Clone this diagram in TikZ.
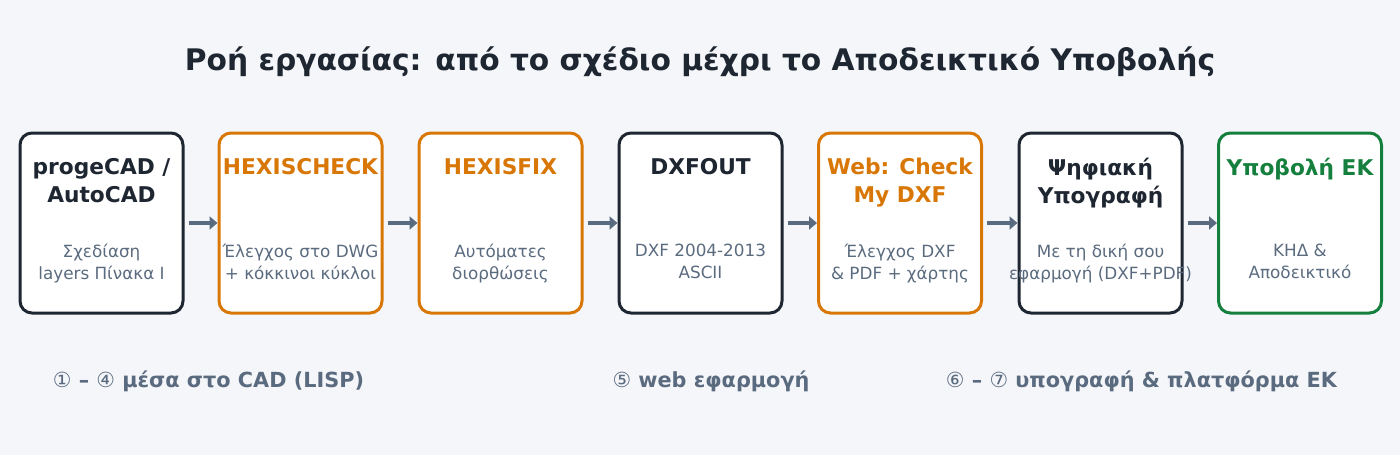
\documentclass[tikz,border=0pt]{standalone}
\usepackage{fontspec}
\setmainfont{DejaVu Sans}
\newfontfamily\plainsans{DejaVu Sans}
\usetikzlibrary{arrows.meta,positioning}

\definecolor{bgpage}{HTML}{F4F6FA}
\definecolor{inkdark}{HTML}{1E2631}
\definecolor{inkorange}{HTML}{D97706}
\definecolor{inkgreen}{HTML}{15803D}
\definecolor{inkgray}{HTML}{5B6B7F}

\tikzset{
  stepbox/.style={draw=#1,fill=white,line width=3pt,rounded corners=12pt,
    minimum width=163pt,minimum height=180pt,inner sep=0pt},
  headtxt/.style={text=#1,font=\bfseries\fontsize{21.7}{28}\selectfont,
    align=center,anchor=north,inner sep=0pt},
  subtxt/.style={text=inkgray,font=\fontsize{16.8}{22}\selectfont,
    align=center,anchor=north,inner sep=0pt},
  flow/.style={draw=inkgray,line width=4pt,-{Triangle[length=8pt,width=13pt]}},
  phase/.style={text=inkgray,font=\bfseries\fontsize{20.8}{24}\selectfont,inner sep=0pt}
}

\begin{document}
\begin{tikzpicture}[x=1pt,y=-1pt]
  \fill[bgpage] (0,0) rectangle (1400,455);
  \useasboundingbox (0,0) rectangle (1400,455);

  \node[text=inkdark,font=\bfseries\fontsize{29.7}{34}\selectfont] (title) at (700,62)
    {Ροή εργασίας: από το σχέδιο μέχρι το Αποδεικτικό Υποβολής};

  % the seven steps
  \node[stepbox=inkdark]   (b1) at (101.5,223) {};
  \node[stepbox=inkorange] (b2) at (300.5,223) {};
  \node[stepbox=inkorange] (b3) at (500.5,223) {};
  \node[stepbox=inkdark]   (b4) at (700.5,223) {};
  \node[stepbox=inkorange] (b5) at (900,223) {};
  \node[stepbox=inkdark]   (b6) at (1100.5,223) {};
  \node[stepbox=inkgreen]  (b7) at (1300,223) {};

  \node[headtxt=inkdark]   (h1) at ([yshift=-26.5pt]b1.north) {progeCAD /\\AutoCAD};
  \node[headtxt=inkorange] (h2) at ([yshift=-26.5pt]b2.north) {HEXISCHECK};
  \node[headtxt=inkorange] (h3) at ([yshift=-26.5pt]b3.north) {HEXISFIX};
  \node[headtxt=inkdark]   (h4) at ([yshift=-26.5pt]b4.north) {DXFOUT};
  \node[headtxt=inkorange] (h5) at ([yshift=-26.5pt]b5.north) {Web: Check\\My DXF};
  \node[headtxt=inkdark]   (h6) at ([yshift=-26.5pt]b6.north) {Ψηφιακή\\Υπογραφή};
  \node[headtxt=inkgreen]  (h7) at ([yshift=-26.5pt]b7.north) {Υποβολή ΕΚ};

  \node[subtxt] (s1) at ([yshift=-112.5pt]b1.north) {Σχεδίαση\\layers Πίνακα Ι};
  \node[subtxt] (s2) at ([yshift=-112.5pt]b2.north) {Έλεγχος στο DWG\\+ κόκκινοι κύκλοι};
  \node[subtxt] (s3) at ([yshift=-112.5pt]b3.north) {Αυτόματες\\διορθώσεις};
  \node[subtxt] (s4) at ([yshift=-112.5pt]b4.north) {DXF 2004-2013\\ASCII};
  \node[subtxt] (s5) at ([yshift=-112.5pt]b5.north) {Έλεγχος DXF\\\& PDF + χάρτης};
  \node[subtxt] (s6) at ([yshift=-112.5pt]b6.north) {Με τη δική σου\\εφαρμογή (DXF+PDF)};
  \node[subtxt] (s7) at ([yshift=-112.5pt]b7.north) {ΚΗΔ \&\\Αποδεικτικό};

  % connectors
  \draw[flow] ([xshift=4pt]b1.east) -- (b2.west);
  \draw[flow] ([xshift=4pt]b2.east) -- (b3.west);
  \draw[flow] ([xshift=4pt]b3.east) -- (b4.west);
  \draw[flow] ([xshift=4pt]b4.east) -- (b5.west);
  \draw[flow] ([xshift=4pt]b5.east) -- (b6.west);
  \draw[flow] ([xshift=4pt]b6.east) -- (b7.west);

  % phases
  \node[phase] (p1) at (208.5,381) {{\mdseries\plainsans ①} – {\mdseries\plainsans ④} μέσα στο CAD (LISP)};
  \node[phase] (p2) at (711,381) {{\mdseries\plainsans ⑤} web εφαρμογή};
  \node[phase] (p3) at (1141.5,381) {{\mdseries\plainsans ⑥} – {\mdseries\plainsans ⑦} υπογραφή \& πλατφόρμα ΕΚ};
\end{tikzpicture}
\end{document}
